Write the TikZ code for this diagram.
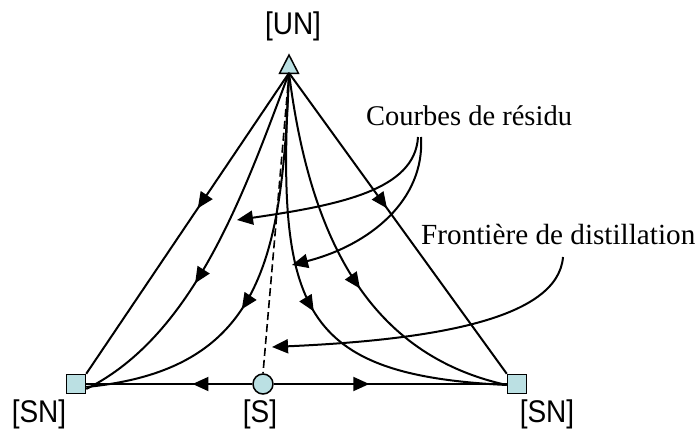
\documentclass[tikz,border=0pt]{standalone}
\usepackage{fontspec}
\setmainfont{Liberation Serif}
\newfontfamily\arialf{Liberation Sans}
\usetikzlibrary{arrows.meta,decorations.markings,shapes.geometric}
\definecolor{mk}{RGB}{187,224,227}
\begin{document}
\begin{tikzpicture}[x=1pt,y=-1pt,
  ln/.style={line width=2pt},
  tri/.tip={Triangle[length=16pt,width=14pt]},
  midarrow/.style={postaction={decorate},decoration={markings,mark=at position #1 with {\arrow{tri}}}},
  sq/.style={draw,line width=1.5pt,fill=mk,minimum size=19pt,inner sep=0pt},
  cir/.style={draw,line width=1.5pt,fill=mk,circle,minimum size=20pt,inner sep=0pt},
  lab/.style={font=\arialf\fontsize{28}{30}\selectfont,inner sep=0pt,anchor=base},
  txt/.style={font=\fontsize{28.5}{30}\selectfont,inner sep=0pt,anchor=base west}]
\useasboundingbox (0,0) rectangle (698,430);
% markers
\coordinate (un) at (289,73);
\node[sq] (snl) at (76,384) {};
\node[sq] (snr) at (517,384) {};
\node[cir] (s) at (263,384) {};
\draw[line width=1.5pt,fill=mk] (279.5,73.5) -- (289,55) -- (298.5,73.5) -- cycle;
% labels
\node[lab] (lun) at (293,35) {\scalebox{1}[1.12]{[UN]}};
\node[lab] (lsnl) at (39,422) {\scalebox{1}[1.12]{[SN]}};
\node[lab] (lsnr) at (547,422) {\scalebox{1}[1.12]{[SN]}};
\node[lab] (ls) at (260,422) {\scalebox{1}[1.12]{[S]}};
\node[txt] (courbes) at (366,126) {Courbes de résidu};
\node[txt,font=\fontsize{29.2}{30}\selectfont] (front) at (421,244) {Frontière de distillation};
% triangle edges
\draw[ln,midarrow=0.45] (un) -- (snl.north east);
\draw[ln,midarrow=0.45] (un) -- (snr.north west);
\draw[ln,midarrow=0.36] (s.west) -- (snl.east);
\draw[ln,midarrow=0.41] (s.east) -- (snr.west);
% residue curves
\draw[ln,midarrow=0.6] (un) .. controls (245,190) and (195,335) .. ([yshift=-5pt]snl.east);
\draw[ln,midarrow=0.575] (un) .. controls (282,260) and (262,370) .. ([yshift=-3pt]snl.east);
\draw[ln,midarrow=0.53] (un) .. controls (276,310) and (300,375) .. ([yshift=-1pt]snr.west);
\draw[ln,midarrow=0.56] (un) .. controls (310,240) and (370,355) .. ([yshift=-1pt]snr.west);
% distillation boundary
\draw[line width=1.6pt,dash pattern=on 8pt off 4pt] (un) -- (s.north);
% annotation arrows
\coordinate (c1) at (418,137);
\coordinate (c2) at (421,137);
\coordinate (t1) at (237,220);
\coordinate (t2) at (292,265);
\coordinate (f1) at (563,257);
\coordinate (t3) at (272,347);
\draw[ln,-tri] (c1) .. controls (415,190) and (340,205) .. (t1);
\draw[ln,-tri] (c2) .. controls (425,200) and (370,245) .. (t2);
\draw[ln,-tri] (f1) .. controls (558,320) and (430,340) .. (t3);
\end{tikzpicture}
\end{document}
